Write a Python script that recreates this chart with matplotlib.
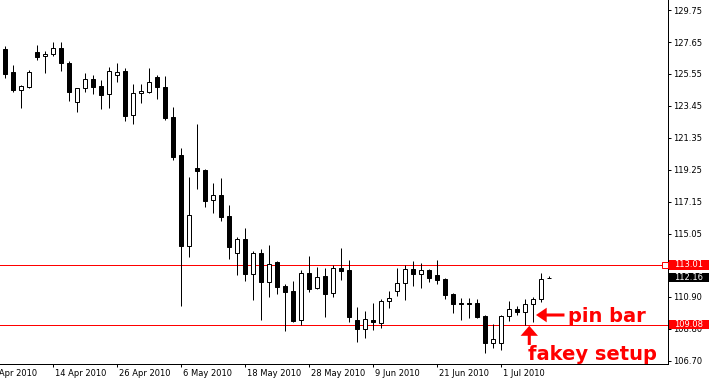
import numpy as np
import matplotlib
matplotlib.use('Agg')
import matplotlib.pyplot as plt
from matplotlib.patches import Rectangle, FancyArrowPatch, ArrowStyle
from matplotlib.transforms import blended_transform_factory, ScaledTranslation

# ---- data (daily candles) ----
opens = [127.19, 125.68, 124.51, 124.71, 126.97, 126.71, 126.84, 127.25, 126.27, 123.69,
         124.61, 125.20, 124.76, 124.21, 125.46, 125.74, 122.83, 124.28, 124.38, 125.33,
         124.67, 122.70, 120.21, 114.23, 119.37, 119.24, 117.25, 117.60, 116.22, 113.77,
         114.71, 112.43, 113.77, 111.90, 113.19, 111.60, 111.29, 109.36, 112.47, 111.51,
         112.27, 111.14, 112.80, 112.67, 109.38, 108.81, 109.38, 109.21, 110.65, 111.31,
         111.83, 112.73, 112.43, 112.67, 112.35, 112.08, 111.11, 110.50, 110.50, 110.48,
         109.65, 107.85, 107.85, 109.65, 110.11, 109.93, 110.41, 110.74, 112.14]
highs = [127.40, 126.14, 124.82, 125.79, 127.45, 127.04, 127.63, 127.63, 126.38, 124.63,
         125.61, 125.48, 125.13, 126.01, 126.27, 125.92, 124.89, 124.89, 125.94, 125.46,
         125.41, 123.38, 120.66, 118.76, 122.26, 119.28, 118.36, 118.71, 116.94, 114.84,
         115.43, 113.90, 114.05, 114.31, 113.28, 111.75, 111.95, 112.67, 113.59, 112.89,
         112.80, 112.98, 114.11, 113.32, 110.24, 109.97, 110.50, 110.74, 111.29, 112.80,
         113.02, 113.26, 113.13, 112.75, 113.30, 112.12, 111.18, 110.85, 110.81, 110.74,
         109.69, 109.10, 109.71, 110.63, 110.32, 110.74, 110.87, 112.45, 112.30]
lows = [125.30, 124.38, 123.33, 124.65, 126.49, 125.63, 126.71, 125.76, 123.79, 123.07,
        124.38, 124.21, 123.27, 123.33, 125.00, 122.48, 122.28, 123.66, 124.28, 123.92,
        122.52, 119.87, 110.32, 113.54, 118.01, 116.83, 116.43, 115.91, 113.41, 112.36,
        111.96, 110.70, 109.38, 110.89, 111.11, 108.68, 109.25, 109.07, 111.22, 111.42,
        109.60, 110.91, 112.01, 109.27, 107.96, 108.22, 108.75, 108.88, 110.17, 110.98,
        110.70, 111.64, 111.51, 111.86, 111.73, 110.76, 109.82, 109.38, 109.49, 109.49,
        107.19, 107.52, 107.41, 109.32, 109.71, 109.05, 109.23, 110.59, 112.14]
closes = [125.57, 124.49, 124.74, 125.66, 126.68, 126.86, 127.23, 126.25, 124.38, 124.61,
          125.20, 124.71, 124.18, 125.72, 125.68, 122.81, 124.30, 124.43, 125.00, 124.67,
          122.66, 120.11, 114.23, 116.26, 119.19, 117.22, 117.58, 116.15, 114.20, 114.68,
          112.43, 113.77, 111.90, 113.06, 111.57, 111.22, 109.32, 112.47, 111.44, 112.21,
          111.11, 112.80, 112.62, 109.60, 108.81, 109.45, 109.27, 110.63, 110.81, 111.81,
          112.71, 112.43, 112.65, 112.16, 112.04, 111.05, 110.45, 110.43, 110.43, 109.60,
          107.85, 108.11, 109.65, 110.09, 109.93, 110.41, 110.74, 112.06, 112.16]

xtick_labels = ['2 Apr 2010', '14 Apr 2010', '26 Apr 2010', '6 May 2010', '18 May 2010',
                '28 May 2010', '9 Jun 2010', '21 Jun 2010', '1 Jul 2010']
xtick_pos = [-2, 6, 14, 22, 30, 38, 46, 54, 62]
ytick_values = [106.70, 108.80, 110.90, 113.00, 115.05, 117.15, 119.25, 121.35,
                123.45, 125.55, 127.65, 129.75]
level_high = 113.01
level_low = 109.08
last_price = 112.16
pin_idx = 66
pin_arrow_y = 109.71
fakey_x = 65.5
fakey_tip_y = 109.0
fakey_tail_y = 107.74

PX = 0.72  # one pixel in points at dpi 100

fig = plt.figure(figsize=(7.09, 3.81), dpi=100)
fig.patch.set_facecolor('white')
ax = fig.add_axes([0, 17 / 381, 668 / 709, 364 / 381])
ax.set_facecolor('white')

o = np.array(opens); h = np.array(highs); l = np.array(lows); c = np.array(closes)
x = np.arange(len(o))

# support/resistance lines (behind candles)
ax.axhline(level_high, color='#ff0000', lw=PX, zorder=1, antialiased=False)
ax.axhline(level_low, color='#ff0000', lw=PX, zorder=1, antialiased=False)

# candles
ax.vlines(x, l, h, color='black', lw=PX, zorder=2)
up = c > o
bottom = np.minimum(o, c)
height = np.maximum(np.abs(c - o), 0.015)
ax.bar(x[up], height[up], bottom=bottom[up], width=0.5, color='white',
       edgecolor='black', lw=PX, zorder=3)
ax.bar(x[~up], height[~up], bottom=bottom[~up], width=0.5, color='black',
       edgecolor='black', lw=PX, zorder=3)

# spines
for s in ['left', 'top']:
    ax.spines[s].set_visible(False)
for s in ['right', 'bottom']:
    ax.spines[s].set_linewidth(PX)
    ax.spines[s].set_color('black')

# y axis on right
ax.yaxis.tick_right()
ax.set_yticks(ytick_values)
ax.set_yticklabels([f'{v:.2f}' for v in ytick_values])
ax.tick_params(axis='y', direction='out', length=3 * PX, width=PX, pad=2 * PX,
               labelsize=6, colors='black')

# x axis: tick marks from the axis, labels drawn as text to the right of each tick
ax.set_xticks(xtick_pos[1:])
ax.set_xticklabels([])
ax.tick_params(axis='x', direction='out', length=3 * PX, width=PX, labelsize=6)
xbt = blended_transform_factory(ax.transData, ax.transAxes)
off = ScaledTranslation(2 / 100, -5 / 100, fig.dpi_scale_trans)
for pos, lab in zip(xtick_pos, xtick_labels):
    ax.text(pos, 0, lab, transform=xbt + off, fontsize=6, ha='left', va='top',
            clip_on=False)

# limits last (set_xticks can widen them)
ax.set_xlim(-0.66, 82.84)
ax.set_ylim(106.49, 130.41)

# price labels on the right axis
bt = blended_transform_factory(ax.transAxes, ax.transData)
box_w = 40 / 668
box_h = 0.31
for val, col in [(level_high, 'red'), (last_price, 'black'), (level_low, 'red')]:
    ax.add_patch(Rectangle((1.0015, val - box_h), box_w, 2 * box_h, transform=bt,
                           facecolor=col, edgecolor='none', clip_on=False, zorder=10))
    ax.text(1.0015 + box_w / 2, val, f'{val:.2f}', transform=bt, color='white',
            fontsize=6, ha='center', va='center', clip_on=False, zorder=11)

# small square marker at the end of the upper line
ax.plot([665 / 668], [level_high], transform=bt, marker='s', ms=4, mfc='white',
        mec='red', mew=PX, clip_on=False, zorder=5)

# annotations
pin_arrow = FancyArrowPatch((pin_idx + 3.9, pin_arrow_y), (pin_idx + 0.34, pin_arrow_y),
                            arrowstyle=ArrowStyle('Simple', head_length=7.7, head_width=10.5,
                                                  tail_width=2.2),
                            mutation_scale=1, color='red', lw=0, shrinkA=0, shrinkB=0,
                            zorder=6)
ax.add_patch(pin_arrow)
fakey_arrow = FancyArrowPatch((fakey_x, fakey_tail_y), (fakey_x, fakey_tip_y),
                              arrowstyle=ArrowStyle('Simple', head_length=7.2, head_width=12.5,
                                                    tail_width=2.2),
                              mutation_scale=1, color='red', lw=0, shrinkA=0, shrinkB=0,
                              zorder=6)
ax.add_patch(fakey_arrow)

ax.text(70.34, 109.25, 'pin bar', color='red', fontsize=14, fontweight='bold',
        family='DejaVu Sans', ha='left', va='baseline', zorder=7)
ax.text(65.34, 106.755, 'fakey setup', color='red', fontsize=14, fontweight='bold',
        family='DejaVu Sans', ha='left', va='baseline', zorder=7, clip_on=False)

fig.savefig('out.png', dpi=100, facecolor='white')
